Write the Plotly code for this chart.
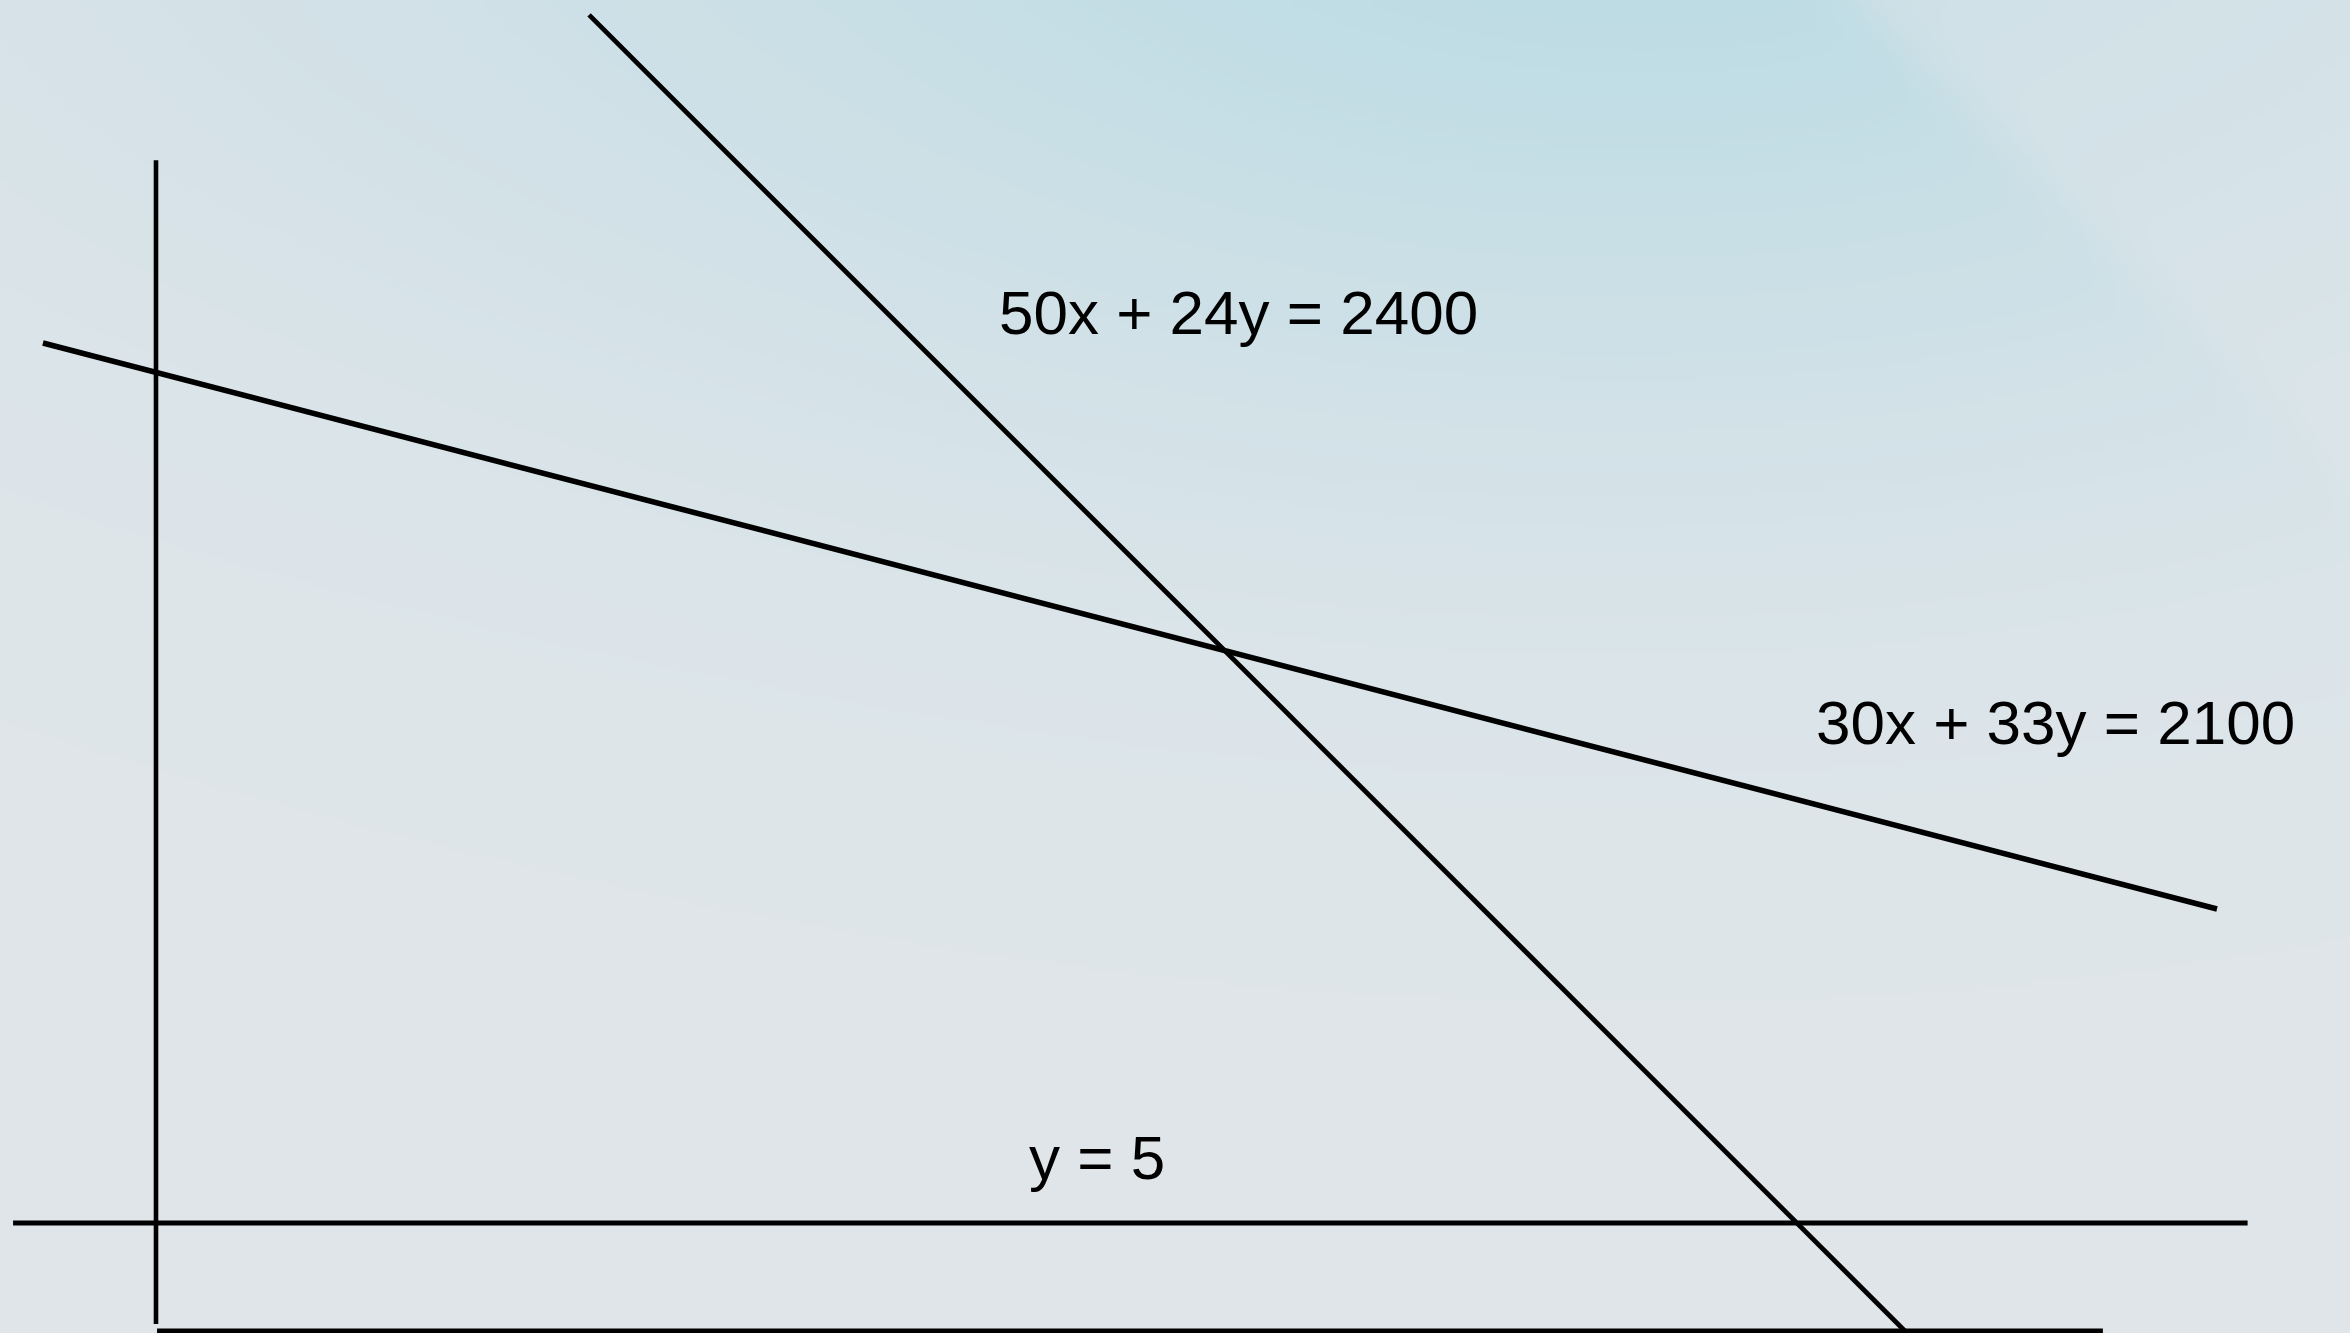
import base64
import struct
import zlib

import numpy as np
import plotly.graph_objects as go

# ---- line segments of the sketch (schematic units, y = 5 is the lower bound) ----
axis_y_x = [0.0, 0.0]
axis_y_y = [0.32, 54.2]

axis_x_x = [0.03, 54.08]
axis_x_y = [0.0, 0.0]

bound_y5_x = [-3.97, 58.1]
bound_y5_y = [5.0, 5.0]

line_a_x = [12.03, 48.7]          # 50x + 24y = 2400
line_a_y = [60.93, -0.2]

line_b_x = [-3.14, 57.25]         # 30x + 33y = 2100
line_b_y = [45.74, 19.54]

labels = ["50x + 24y = 2400", "30x + 33y = 2100", "y = 5"]
label_x = [30.08, 52.75, 26.14]
label_y = [47.13, 28.15, 8.01]

X_RANGE = [-4.333, 60.944]
Y_RANGE = [-0.093, 61.62]

W, H = 2350, 1333


def png_data_uri(arr):
    h, w, _ = arr.shape
    raw = b"".join(b"\x00" + arr[i].tobytes() for i in range(h))

    def chunk(tag, data):
        body = tag + data
        return struct.pack(">I", len(data)) + body + struct.pack(">I", zlib.crc32(body) & 0xFFFFFFFF)

    ihdr = struct.pack(">IIBBBBB", w, h, 8, 2, 0, 0, 0)
    png = (b"\x89PNG\r\n\x1a\n" + chunk(b"IHDR", ihdr)
           + chunk(b"IDAT", zlib.compress(raw, 9)) + chunk(b"IEND", b""))
    return "data:image/png;base64," + base64.b64encode(png).decode()


def backdrop(step=5):
    # soft blue-grey backdrop with a cyan glow along the top edge
    xs = (np.arange(W // step) + 0.5) * step
    ys = (np.arange(H // step + 1) + 0.5) * step
    X, Y = np.meshgrid(xs, ys)
    base = np.array([224.0, 230.0, 234.0])
    cyan = np.array([186.0, 219.0, 228.0])
    haze = np.array([214.0, 226.0, 232.0])

    w1 = np.exp(-(((X - 1650) / 1150) ** 2 + ((Y + 220) / 640) ** 2))
    d = (X - Y - 1858) / np.sqrt(2)
    w1 = w1 * (1 - 0.5 / (1 + np.exp(-d / 12)))
    w2 = 0.6 * np.exp(-(((X - 300) / 900) ** 2 + ((Y + 100) / 520) ** 2))

    img = base[None, None, :] * np.ones(X.shape)[..., None]
    img = img + (haze - base) * w2[..., None]
    img = img + (cyan - img) * w1[..., None]
    return np.clip(img, 0, 255).astype(np.uint8)


fig = go.Figure()

segments = [
    (axis_y_x, axis_y_y, 4.6),
    (axis_x_x, axis_x_y, 4.8),
    (bound_y5_x, bound_y5_y, 5.0),
    (line_a_x, line_a_y, 4.8),
    (line_b_x, line_b_y, 5.6),
]
for xs, ys, lw in segments:
    fig.add_trace(go.Scatter(x=xs, y=ys, mode="lines", line=dict(color="#000000", width=lw),
                             hoverinfo="skip", showlegend=False))

for text, x, y in zip(labels, label_x, label_y):
    fig.add_annotation(x=x, y=y, text=text, showarrow=False,
                       xanchor="center", yanchor="middle",
                       font=dict(family="Liberation Sans, Arial, sans-serif", size=62, color="#000000"))

fig.add_layout_image(dict(source=png_data_uri(backdrop()), xref="paper", yref="paper",
                          x=0, y=1, sizex=1, sizey=1, sizing="stretch",
                          xanchor="left", yanchor="top", layer="below"))

fig.update_layout(
    width=W, height=H,
    margin=dict(l=0, r=0, t=0, b=0),
    paper_bgcolor="#e0e6ea",
    plot_bgcolor="rgba(0,0,0,0)",
    xaxis=dict(range=X_RANGE, visible=False, showgrid=False, zeroline=False),
    yaxis=dict(range=Y_RANGE, visible=False, showgrid=False, zeroline=False),
)

fig.write_html("out.html")
